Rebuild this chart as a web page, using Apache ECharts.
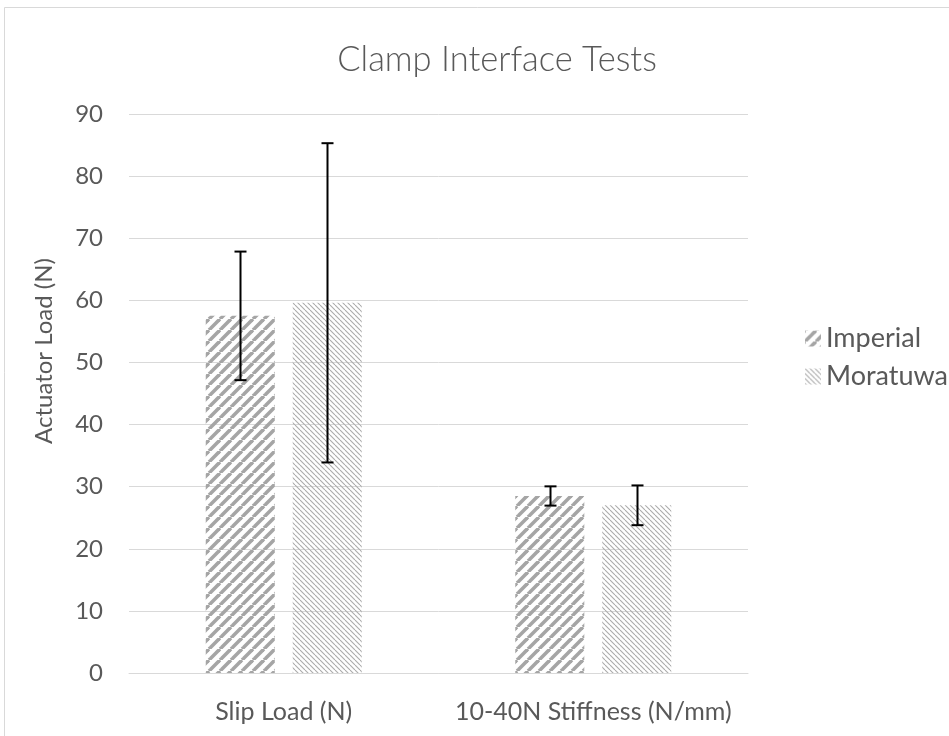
<!DOCTYPE html>
<html>
<head>
<meta charset="utf-8">
<script src="https://cdn.jsdelivr.net/npm/echarts@6/dist/echarts.min.js"></script>
<style>
  html, body { margin: 0; padding: 0; background: #fff; }
  #chart { width: 949px; height: 736px; }
</style>
</head>
<body>
<div id="chart"></div>
<script>
// Chart data
const categories = ['Slip Load (N)', '10-40N Stiffness (N/mm)'];
const seriesNames = ['Imperial', 'Moratuwa'];
const imperial = [57.5, 28.5];
const moratuwa = [59.6, 27.0];
const imperialErr = [10.35, 1.55];
const moratuwaErr = [25.7, 3.2];

const textColor = '#595959';
const gridColor = '#d9d9d9';
const font = 'Lato, "Open Sans", sans-serif';

// hatch patterns for the bars
function makePattern(size, width, color, dir) {
  const c = document.createElement('canvas');
  c.width = size;
  c.height = size;
  const ctx = c.getContext('2d');
  ctx.strokeStyle = color;
  ctx.lineWidth = width;
  for (let k = -1; k <= 1; k++) {
    ctx.beginPath();
    if (dir === 'up') {
      ctx.moveTo(k * size, size);
      ctx.lineTo(k * size + size, 0);
    } else {
      ctx.moveTo(k * size, 0);
      ctx.lineTo(k * size + size, size);
    }
    ctx.stroke();
  }
  return { image: c, repeat: 'repeat' };
}

const imperialFill = makePattern(11, 3.6, '#a5a5a5', 'up');
const moratuwaFill = makePattern(5, 1.1, '#ababab', 'down');

const barWidthRatio = 0.223;
const barGapRatio = 0.26;

function errorBars(sign) {
  return function (params, api) {
    const idx = api.value(0);
    const lo = api.coord([idx, api.value(1)]);
    const hi = api.coord([idx, api.value(2)]);
    const catW = api.size([1, 0])[0];
    const off = sign * catW * barWidthRatio * (1 + barGapRatio) / 2;
    const x = Math.round(lo[0] + off) + 0.5;
    const cap = 6;
    const style = { stroke: '#000', lineWidth: 2 };
    return {
      type: 'group',
      children: [
        { type: 'line', shape: { x1: x, y1: hi[1], x2: x, y2: lo[1] }, style: style },
        { type: 'line', shape: { x1: x - cap, y1: hi[1], x2: x + cap, y2: hi[1] }, style: style },
        { type: 'line', shape: { x1: x - cap, y1: lo[1], x2: x + cap, y2: lo[1] }, style: style }
      ]
    };
  };
}

var chart = echarts.init(document.getElementById('chart'));

option = {
  backgroundColor: '#fff',
  animation: false,
  title: {
    text: 'Clamp Interface Tests',
    left: 492,
    top: 37,
    textAlign: 'center',
    textStyle: { fontFamily: font, fontSize: 34.5, fontWeight: 300, color: textColor }
  },
  legend: {
    orient: 'vertical',
    left: 800,
    top: 320,
    itemWidth: 16,
    itemHeight: 16,
    itemGap: 11,
    icon: 'rect',
    data: seriesNames,
    textStyle: { fontFamily: font, fontSize: 27, color: textColor, lineHeight: 26 }
  },
  grid: {
    left: 129,
    right: 201,
    top: 114,
    bottom: 63
  },
  xAxis: {
    type: 'category',
    data: categories,
    axisTick: { show: false },
    axisLine: { lineStyle: { color: gridColor, width: 1 } },
    axisLabel: { fontFamily: font, fontSize: 25, color: textColor, margin: 26, interval: 0 }
  },
  yAxis: {
    type: 'value',
    min: 0,
    max: 90,
    interval: 10,
    axisLine: { show: false },
    axisTick: { show: false },
    splitLine: { lineStyle: { color: gridColor, width: 1 } },
    axisLabel: { fontFamily: font, fontSize: 24, color: textColor, margin: 26 }
  },
  graphic: [
    {
      type: 'rect',
      shape: { x: 4.5, y: 7.5, width: 960, height: 760 },
      style: { fill: 'none', stroke: gridColor, lineWidth: 1 },
      silent: true
    },
    {
      type: 'text',
      x: 44,
      y: 351,
      rotation: Math.PI / 2,
      style: {
        text: 'Actuator Load (N)',
        fontFamily: font,
        fontSize: 24,
        fill: textColor,
        textAlign: 'center',
        textVerticalAlign: 'middle'
      }
    }
  ],
  series: [
    {
      name: 'Imperial',
      type: 'bar',
      data: imperial,
      barWidth: (barWidthRatio * 100) + '%',
      barGap: (barGapRatio * 100) + '%',
      itemStyle: { color: imperialFill }
    },
    {
      name: 'Moratuwa',
      type: 'bar',
      data: moratuwa,
      barWidth: (barWidthRatio * 100) + '%',
      barGap: (barGapRatio * 100) + '%',
      itemStyle: { color: moratuwaFill }
    },
    {
      type: 'custom',
      renderItem: errorBars(-1),
      encode: { x: 0, y: [1, 2] },
      data: imperial.map((v, i) => [i, v - imperialErr[i], v + imperialErr[i]]),
      z: 5
    },
    {
      type: 'custom',
      renderItem: errorBars(1),
      encode: { x: 0, y: [1, 2] },
      data: moratuwa.map((v, i) => [i, v - moratuwaErr[i], v + moratuwaErr[i]]),
      z: 5
    }
  ]
};

chart.setOption(option);
</script>
</body>
</html>
